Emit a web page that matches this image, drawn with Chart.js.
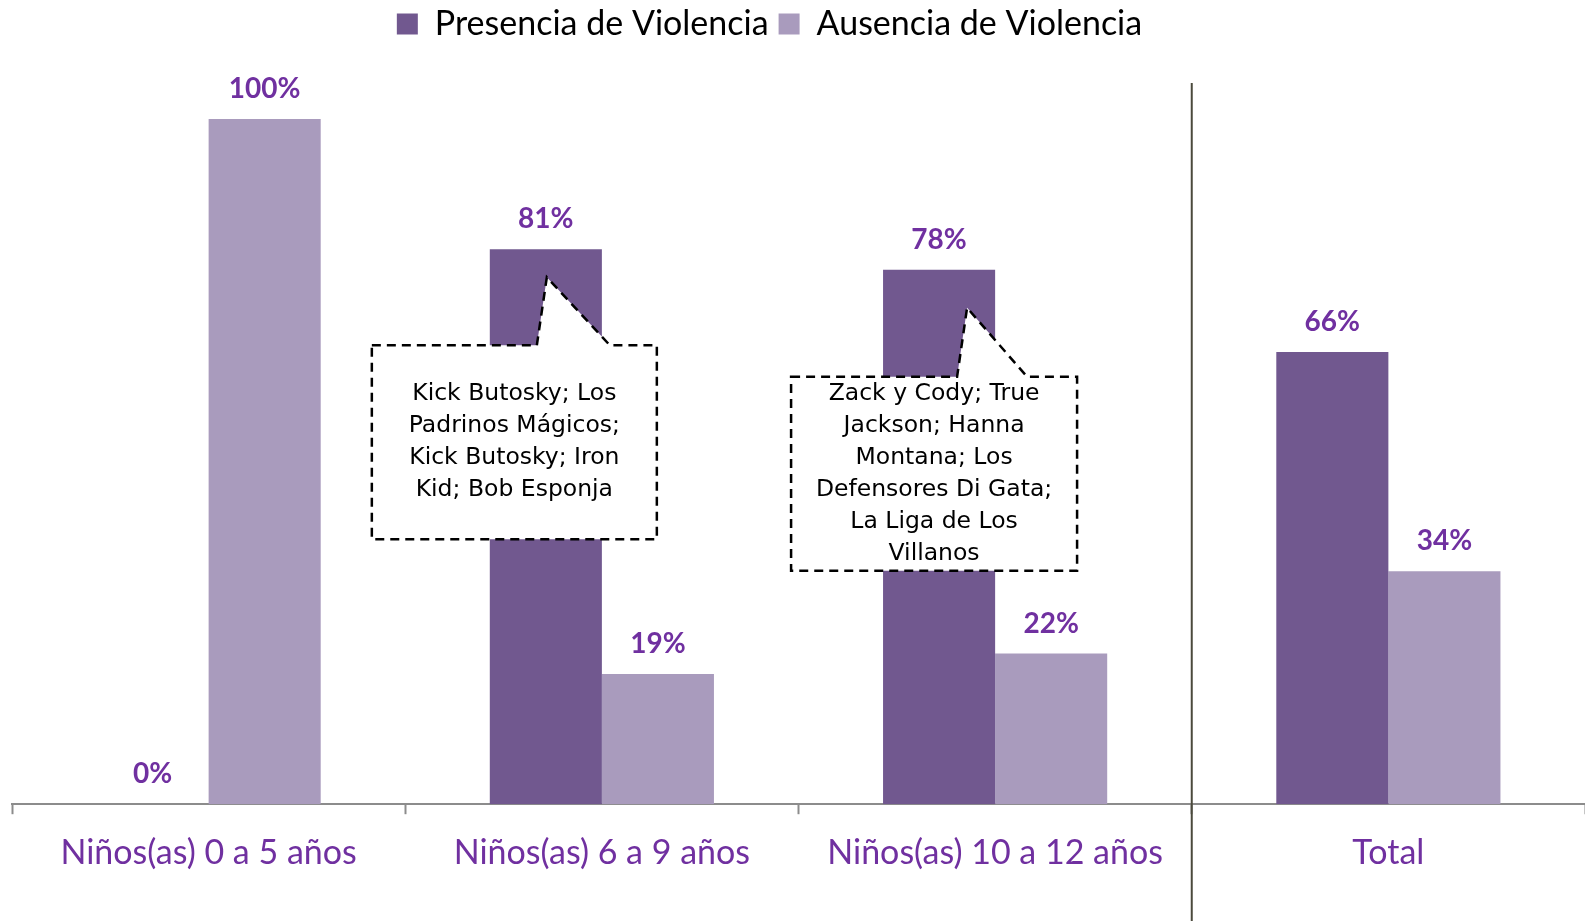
<!DOCTYPE html>
<html>
<head>
<meta charset="utf-8">
<script src="https://cdn.jsdelivr.net/npm/chart.js@4"></script>
<style>
  body { margin: 0; background: #fff; }
  #wrap { width: 1585px; height: 921px; }
</style>
</head>
<body>
<div id="wrap"><canvas id="chart"></canvas></div>
<script>
const categories = ["Niños(as) 0 a 5 años", "Niños(as) 6 a 9 años", "Niños(as) 10 a 12 años", "Total"];
const presencia = [0, 81, 78, 66];
const ausencia = [100, 19, 22, 34];
const seriesNames = ["Presencia de Violencia", "Ausencia de Violencia"];

// program lists shown in the callouts (by category index)
const callout1Lines = ["Kick Butosky; Los", "Padrinos Mágicos;", "Kick Butosky; Iron", "Kid; Bob Esponja"];
const callout2Lines = ["Zack y Cody; True", "Jackson; Hanna", "Montana; Los", "Defensores Di Gata;", "La Liga de Los", "Villanos"];

const PURPLE_TEXT = "#7030a0";

// percentage labels above each bar
const valueLabels = {
  id: "valueLabels",
  afterDatasetsDraw(chart) {
    const ctx = chart.ctx;
    ctx.save();
    ctx.font = "bold 28px Lato";
    ctx.fillStyle = PURPLE_TEXT;
    ctx.textAlign = "center";
    ctx.textBaseline = "middle";
    chart.data.datasets.forEach((ds, i) => {
      chart.getDatasetMeta(i).data.forEach((bar, j) => {
        ctx.fillText(ds.data[j] + "%", bar.x, bar.y - 30);
      });
    });
    ctx.restore();
  }
};

// dashed speech-bubble callouts pointing at the "Presencia" bars
const callouts = {
  id: "callouts",
  afterDraw(chart) {
    const ctx = chart.ctx;
    const meta = chart.getDatasetMeta(0);
    const boxes = [
      { cat: 1, lines: callout1Lines, left: -174, right: 111, top: 96, height: 194, tipX: 1, tipY: 28, baseL: -9, baseR: 64 },
      { cat: 2, lines: callout2Lines, left: -148, right: 138, top: 107, height: 194, tipX: 28, tipY: 38, baseL: 18, baseR: 88 }
    ];
    boxes.forEach(b => {
      const bar = meta.data[b.cat];
      const cx = bar.x, top = bar.y + b.top;
      const l = cx + b.left, r = cx + b.right, bot = top + b.height;
      ctx.save();
      ctx.beginPath();
      ctx.moveTo(l, top);
      ctx.lineTo(cx + b.baseL, top);
      ctx.lineTo(cx + b.tipX, bar.y + b.tipY);
      ctx.lineTo(cx + b.baseR, top);
      ctx.lineTo(r, top);
      ctx.lineTo(r, bot);
      ctx.lineTo(l, bot);
      ctx.closePath();
      ctx.fillStyle = "#fff";
      ctx.fill();
      ctx.setLineDash([9, 6]);
      ctx.lineWidth = 2.5;
      ctx.strokeStyle = "#000";
      ctx.stroke();
      ctx.setLineDash([]);
      ctx.fillStyle = "#000";
      ctx.font = "23.5px 'DejaVu Sans'";
      ctx.textAlign = "center";
      ctx.textBaseline = "middle";
      const lh = 32;
      const midY = (top + bot) / 2;
      const startY = midY - (b.lines.length - 1) * lh / 2;
      b.lines.forEach((t, k) => ctx.fillText(t, (l + r) / 2, startY + k * lh));
      ctx.restore();
    });
  }
};

// vertical line separating the age groups from the total
const separator = {
  id: "separator",
  afterDraw(chart) {
    const x = chart.scales.x;
    const px = (x.getPixelForValue(2) + x.getPixelForValue(3)) / 2;
    const ctx = chart.ctx;
    ctx.save();
    ctx.strokeStyle = "#4b4a3c";
    ctx.lineWidth = 2;
    ctx.beginPath();
    ctx.moveTo(px, 83);
    ctx.lineTo(px, chart.height);
    ctx.stroke();
    ctx.restore();
  }
};

// nudge the legend a little left and up, like the original
const legendShift = {
  id: "legendShift",
  afterLayout(chart) {
    chart.legend.left -= 29;
    chart.legend.right -= 29;
    chart.legend.top -= 3;
    chart.legend.bottom -= 3;
  }
};

const ctx = document.getElementById("chart").getContext("2d");
const chart = new Chart(ctx, {
  type: "bar",
  data: {
    labels: categories,
    datasets: [
      { label: seriesNames[0], data: presencia, backgroundColor: "#71588f" },
      { label: seriesNames[1], data: ausencia, backgroundColor: "#a99bbd" }
    ]
  },
  options: {
    responsive: true,
    maintainAspectRatio: false,
    animation: false,
    categoryPercentage: 0.57,
    barPercentage: 1,
    layout: { padding: { left: 12, right: 0, top: 0, bottom: 30 } },
    plugins: {
      legend: {
        position: "top",
        labels: {
          boxWidth: 21,
          boxHeight: 21,
          padding: 10,
          color: "#000",
          font: { family: "Lato", size: 34 }
        }
      },
      tooltip: { enabled: false }
    },
    scales: {
      y: {
        display: false,
        min: 0,
        max: 109.5
      },
      x: {
        grid: {
          drawOnChartArea: false,
          drawTicks: true,
          tickLength: 10,
          tickWidth: 2,
          tickColor: "#8c8c8c"
        },
        border: { display: true, color: "#8c8c8c", width: 2 },
        ticks: {
          color: PURPLE_TEXT,
          padding: 18,
          font: { family: "Lato", size: 34 }
        }
      }
    }
  },
  plugins: [valueLabels, callouts, separator, legendShift]
});
</script>
</body>
</html>
